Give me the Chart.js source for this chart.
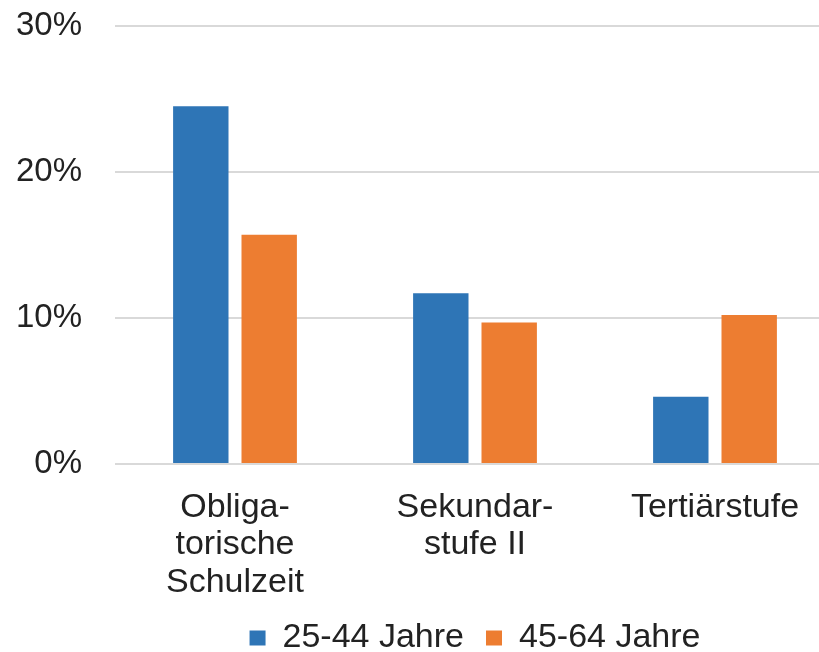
<!DOCTYPE html>
<html>
<head>
<meta charset="utf-8">
<script src="https://cdn.jsdelivr.net/npm/chart.js@4.4.1/dist/chart.umd.min.js"></script>
<style>
    html, body { margin: 0; padding: 0; background: #fff; overflow: hidden; }
</style>
</head>
<body>
<canvas id="myChart" width="836" height="652"></canvas>
<script>
// Werte (Anteil in %)
const kategorien = [['Obliga-', 'torische', 'Schulzeit'], ['Sekundar-', 'stufe II'], 'Tertiärstufe'];
const jahre2544 = [24.5, 11.7, 4.6];
const jahre4564 = [15.7, 9.7, 10.2];
const yTicks = [0, 10, 20, 30];

const schrift = { family: "'Liberation Sans', Arial, sans-serif", size: 33 };
const schriftText = { family: "'Liberation Sans', Arial, sans-serif", size: 34, lineHeight: 1.1 };

document.addEventListener('DOMContentLoaded', function () {
    var ctx = document.getElementById('myChart').getContext('2d');
    new Chart(ctx, {
        type: 'bar',
        data: {
            labels: kategorien,
            datasets: [{
                label: '25-44 Jahre',
                data: jahre2544,
                backgroundColor: '#2E75B6',
                categoryPercentage: 0.57,
                barPercentage: 0.81
            }, {
                label: '45-64 Jahre',
                data: jahre4564,
                backgroundColor: '#ED7D31',
                categoryPercentage: 0.57,
                barPercentage: 0.81
            }]
        },
        options: {
            responsive: false,
            maintainAspectRatio: false,
            animation: false,
            layout: { padding: { top: 26, right: 1, bottom: -13, left: 0 } },
            plugins: {
                tooltip: { enabled: false },
                legend: {
                    position: 'bottom',
                    fullSize: false,
                    labels: {
                        color: '#222',
                        font: schriftText,
                        boxWidth: 16,
                        boxHeight: 15,
                        padding: 22
                    }
                }
            },
            scales: {
                x: {
                    grid: { display: false },
                    border: { display: false },
                    ticks: {
                        color: '#222',
                        font: schriftText,
                        padding: 17,
                        maxRotation: 0,
                        autoSkip: false
                    },
                    afterFit: function (scale) { scale.height = 135; }
                },
                y: {
                    min: 0,
                    max: 30,
                    afterBuildTicks: function (scale) {
                        scale.ticks = yTicks.map(v => ({ value: v }));
                    },
                    grid: { color: '#d9d9d9', lineWidth: 2, drawTicks: false },
                    border: { display: false },
                    ticks: {
                        color: '#222',
                        font: schrift,
                        padding: 33,
                        callback: v => v + '%'
                    },
                    afterFit: function (scale) {
                        scale.width = 115;
                        scale.paddingTop = 0;
                        scale.paddingBottom = 0;
                    }
                }
            }
        }
    });
});
</script>
</body>
</html>
